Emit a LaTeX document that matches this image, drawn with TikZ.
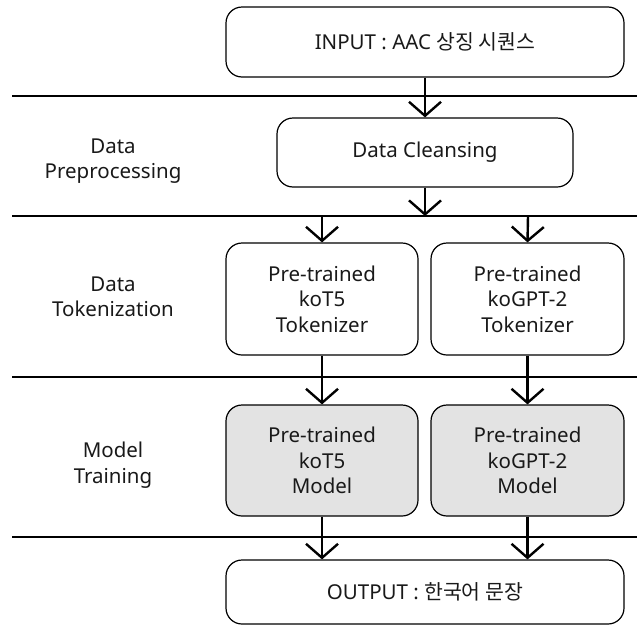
\documentclass[tikz,border=0pt]{standalone}
\usepackage{fontspec}
\setmainfont{Noto Sans}
\newfontfamily\kr{Noto Sans CJK KR}
\usetikzlibrary{arrows.meta}
\begin{document}
\begin{tikzpicture}[x=1pt,y=-1pt,
  box/.style={draw=black, line width=1.2pt, rounded corners=16pt, align=center,
    inner sep=0pt, font=\fontsize{20.5}{25.5}\selectfont, text=black!90},
  gbox/.style={box, fill=black!11},
  sep/.style={line width=1.3pt},
  flow/.style={line width=2.4pt, -{Straight Barb[length=14pt,width=32pt,line width=2.4pt]}},
  lab/.style={align=center, font=\fontsize{20.5}{25.5}\selectfont, text=black!90}]
\useasboundingbox (0,0) rectangle (637,627);
% separators
\coordinate (s1a) at (12,96);  \coordinate (s1b) at (637,96);
\coordinate (s2a) at (12,216); \coordinate (s2b) at (637,216);
\coordinate (s3a) at (12,377); \coordinate (s3b) at (637,377);
\coordinate (s4a) at (12,537); \coordinate (s4b) at (637,537);
\draw[sep] (s1a) -- (s1b);
\draw[sep] (s2a) -- (s2b);
\draw[sep] (s3a) -- (s3b);
\draw[sep] (s4a) -- (s4b);
% boxes
\node[box, minimum width=398pt, minimum height=70pt] (in) at (425,42) {INPUT : AAC {\kr 상징 시퀀스}};
\node[box, minimum width=296pt, minimum height=69pt] (cl) at (425,152.5) {Data Cleansing};
\node[box, minimum width=192pt, minimum height=112pt] (tl) at (322,299) {Pre-trained\\koT5\\Tokenizer};
\node[box, minimum width=193pt, minimum height=112pt] (tr) at (527.5,299) {Pre-trained\\koGPT-2\\Tokenizer};
\node[gbox, minimum width=192pt, minimum height=111pt] (ml) at (322,460.5) {Pre-trained\\koT5\\Model};
\node[gbox, minimum width=193pt, minimum height=111pt] (mr) at (527.5,460.5) {Pre-trained\\koGPT-2\\Model};
\node[box, minimum width=398pt, minimum height=64pt] (out) at (425,592) {OUTPUT : {\kr 한국어 문장}};
% labels
\node[lab] (l1) at (113,161) {Data\\Preprocessing};
\node[lab] (l2) at (113,297) {Data\\Tokenization};
\node[lab] (l3) at (113,465) {Model\\Training};
% connectors
\coordinate (bc) at (425,216);
\coordinate (bl) at (322,216);
\coordinate (br) at (528,216);
\draw[flow] (in.south) -- (cl.north);
\draw[flow] (cl.south) -- (bc);
\draw[line width=2.4pt] ([xshift=-1.2pt]bl) -- ([xshift=1.2pt]br);
\draw[flow] (bl) -- (tl.north);
\draw[flow] (br) -- (tr.north);
\draw[flow] (tl.south) -- (ml.north);
\draw[flow] (tr.south) -- (mr.north);
\draw[flow] (ml.south) -- (ml.south |- out.north);
\draw[flow] (mr.south) -- (mr.south |- out.north);
\end{tikzpicture}
\end{document}
